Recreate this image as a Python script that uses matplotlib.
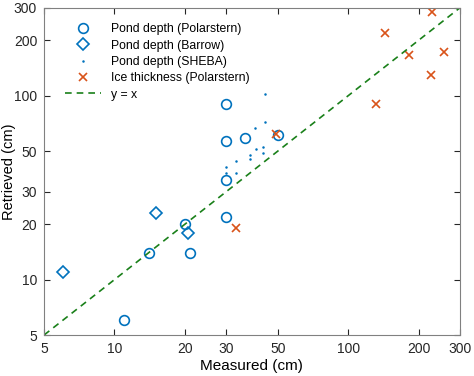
import numpy as np
import matplotlib
matplotlib.use('Agg')
import matplotlib.pyplot as plt

plt.rcParams['font.family'] = ['Liberation Sans', 'DejaVu Sans']

# Pond depth (Polarstern)
pol_meas = [11, 14, 20, 21, 30, 30, 30, 30, 36, 50]
pol_retr = [6, 14, 20, 14, 22, 35, 90, 57, 59, 61]

# Pond depth (Barrow)
bar_meas = [6, 15, 20.6]
bar_retr = [11, 23, 18]

# Pond depth (SHEBA)
sheba_meas = [44, 44, 40, 40.5, 43.3, 43.3, 38, 38, 33, 33, 30, 30]
sheba_retr = [102, 72, 67, 51, 52.6, 49, 47.5, 45, 44, 38, 41, 38]

# Ice thickness (Polarstern)
ice_meas = [229, 144, 182, 256, 225, 132, 49, 33]
ice_retr = [284, 219, 166, 172, 129, 90, 62, 19]

ticks = [5, 10, 20, 30, 50, 100, 200, 300]

blue = '#0072BD'
orange = '#D95319'
green = '#1A801A'

fig = plt.figure(figsize=(4.74, 3.76), dpi=100)
ax = fig.add_axes([0.093, 0.109, 0.877, 0.870])

ax.plot(pol_meas, pol_retr, 'o', mfc='none', mec=blue, ms=7, mew=1.2,
        label='Pond depth (Polarstern)')
ax.plot(bar_meas, bar_retr, 'D', mfc='none', mec=blue, ms=6, mew=1.2,
        label='Pond depth (Barrow)')
ax.plot(sheba_meas, sheba_retr, 'o', color=blue, ms=1.8, mew=0,
        label='Pond depth (SHEBA)')
ax.plot(ice_meas, ice_retr, 'x', color=orange, ms=5.5, mew=1.2,
        label='Ice thickness (Polarstern)')
ax.plot([5, 300], [5, 300], '--', color=green, lw=1.2, dashes=(4, 3),
        label='y = x')

ax.set_xscale('log')
ax.set_yscale('log')
ax.set_xlim(5, 300)
ax.set_ylim(5, 300)
ax.set_xticks(ticks)
ax.set_yticks(ticks)
ax.set_xticklabels([str(t) for t in ticks])
ax.set_yticklabels([str(t) for t in ticks])
ax.minorticks_off()
ax.tick_params(direction='in', top=True, right=True, length=4, width=0.8,
               labelsize=10, colors='#262626', pad=5)
for s in ax.spines.values():
    s.set_color('#808080')
    s.set_linewidth(0.8)

ax.set_xlabel('Measured (cm)', fontsize=11, labelpad=2)
ax.set_ylabel('Retrieved (cm)', fontsize=10.5)
ax.yaxis.set_label_coords(-0.068, 0.5)

ax.legend(loc='upper left', frameon=False, fontsize=8.8, handlelength=3,
          borderaxespad=0.6, labelspacing=0.35, bbox_to_anchor=(0.02, 0.99))

fig.savefig('out.png', dpi=100)
